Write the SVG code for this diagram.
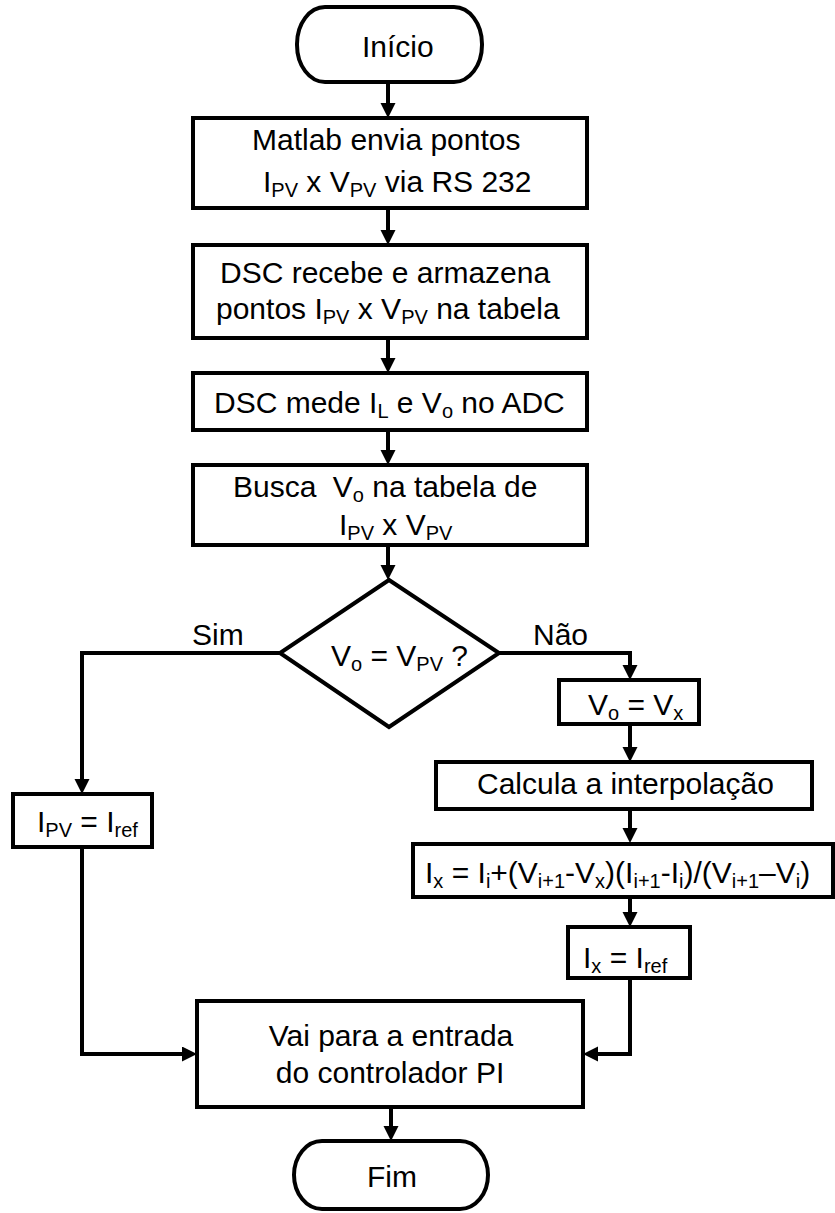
<svg xmlns="http://www.w3.org/2000/svg" width="835" height="1213" viewBox="0 0 835 1213">
<style>
.b{fill:#fff;stroke:#000;stroke-width:4}
.c{fill:none;stroke:#000;stroke-width:4}
text{font-family:"Liberation Sans",Arial,sans-serif;font-size:30px;fill:#000}
.s{font-size:20px}
</style>
<defs>
<marker id="ah" markerUnits="userSpaceOnUse" markerWidth="16" markerHeight="16" refX="3" refY="7.5" orient="auto">
<path d="M0,0 L15,7.5 L0,15 z" fill="#000"/>
</marker>
</defs>
<rect width="835" height="1213" fill="#fff"/>
<g id="connectors">
<path class="c" d="M388,82 V106" marker-end="url(#ah)"/>
<path class="c" d="M388,208 V233" marker-end="url(#ah)"/>
<path class="c" d="M388,338 V361" marker-end="url(#ah)"/>
<path class="c" d="M388,430 V453" marker-end="url(#ah)"/>
<path class="c" d="M388,545 V568" marker-end="url(#ah)"/>
<path class="c" d="M280,653 H82 V782" marker-end="url(#ah)"/>
<path class="c" d="M82,847 V1054 H185" marker-end="url(#ah)"/>
<path class="c" d="M499,653 H630 V668" marker-end="url(#ah)"/>
<path class="c" d="M630,724 V750" marker-end="url(#ah)"/>
<path class="c" d="M630,809 V831" marker-end="url(#ah)"/>
<path class="c" d="M630,897 V915" marker-end="url(#ah)"/>
<path class="c" d="M630,978 V1054 H595" marker-end="url(#ah)"/>
<path class="c" d="M391,1107 V1129" marker-end="url(#ah)"/>
</g>
<g id="inicio">
<rect class="b" x="297" y="7" width="185" height="75" rx="28" ry="37"/>
<text x="362" y="57">Início</text>
</g>
<g id="matlab">
<rect class="b" x="193" y="118" width="394" height="90"/>
<text x="252" y="150">Matlab envia pontos</text>
<text x="263" y="192">I<tspan class="s" dy="5">PV</tspan><tspan dy="-5"> x V</tspan><tspan class="s" dy="5">PV</tspan><tspan dy="-5"> via RS 232</tspan></text>
</g>
<g id="dsc-recebe">
<rect class="b" x="193" y="245" width="394" height="93"/>
<text x="220" y="283">DSC recebe e armazena</text>
<text x="216" y="319">pontos I<tspan class="s" dy="5">PV</tspan><tspan dy="-5"> x V</tspan><tspan class="s" dy="5">PV</tspan><tspan dy="-5"> na tabela</tspan></text>
</g>
<g id="dsc-mede">
<rect class="b" x="193" y="373" width="394" height="57"/>
<text x="214" y="413">DSC mede I<tspan class="s" dy="5">L</tspan><tspan dy="-5"> e V</tspan><tspan class="s" dy="5">o</tspan><tspan dy="-5"> no ADC</tspan></text>
</g>
<g id="busca">
<rect class="b" x="193" y="465" width="394" height="80"/>
<text x="233" y="497">Busca <tspan dx="8">V</tspan><tspan class="s" dy="5">o</tspan><tspan dy="-5"> na tabela de</tspan></text>
<text x="339" y="535">I<tspan class="s" dy="5">PV</tspan><tspan dy="-5"> x V</tspan><tspan class="s" dy="5">PV</tspan></text>
</g>
<g id="decisao">
<polygon class="b" points="389,580 499,653 389,727 280,653"/>
<text x="331" y="666">V<tspan class="s" dy="5">o</tspan><tspan dy="-5"> = V</tspan><tspan class="s" dy="5">PV</tspan><tspan dy="-5"> ?</tspan></text>
</g>
<g id="labels">
<text x="192" y="645">Sim</text>
<text x="533" y="645">Não</text>
</g>
<g id="ipv-iref">
<rect class="b" x="13" y="794" width="139" height="53"/>
<text x="37" y="832">I<tspan class="s" dy="5">PV</tspan><tspan dy="-5"> = I</tspan><tspan class="s" dy="5">ref</tspan></text>
</g>
<g id="vo-vx">
<rect class="b" x="559" y="680" width="140" height="44"/>
<text x="588" y="715">V<tspan class="s" dy="5">o</tspan><tspan dy="-5"> = V</tspan><tspan class="s" dy="5">x</tspan></text>
</g>
<g id="calcula">
<rect class="b" x="436" y="762" width="376" height="47"/>
<text x="477" y="794">Calcula a interpolação</text>
</g>
<g id="formula">
<rect class="b" x="413" y="844" width="420" height="53"/>
<text x="425" y="883">I<tspan class="s" dy="5">x</tspan><tspan dy="-5"> = I</tspan><tspan class="s" dy="5">i</tspan><tspan dy="-5">+(V</tspan><tspan class="s" dy="5">i+1</tspan><tspan dy="-5">-V</tspan><tspan class="s" dy="5">x</tspan><tspan dy="-5">)(I</tspan><tspan class="s" dy="5">i+1</tspan><tspan dy="-5">-I</tspan><tspan class="s" dy="5">i</tspan><tspan dy="-5">)/(V</tspan><tspan class="s" dy="5">i+1</tspan><tspan dy="-5">–V</tspan><tspan class="s" dy="5">i</tspan><tspan dy="-5">)</tspan></text>
</g>
<g id="ix-iref">
<rect class="b" x="568" y="927" width="122" height="51"/>
<text x="583" y="968">I<tspan class="s" dy="5">x</tspan><tspan dy="-5"> = I</tspan><tspan class="s" dy="5">ref</tspan></text>
</g>
<g id="vai">
<rect class="b" x="197" y="1001" width="386" height="106"/>
<text x="391" y="1046" text-anchor="middle">Vai para a entrada</text>
<text x="390" y="1083" text-anchor="middle">do controlador PI</text>
</g>
<g id="fim">
<rect class="b" x="294" y="1141" width="194" height="68" rx="28" ry="34"/>
<text x="367" y="1187">Fim</text>
</g>
</svg>
